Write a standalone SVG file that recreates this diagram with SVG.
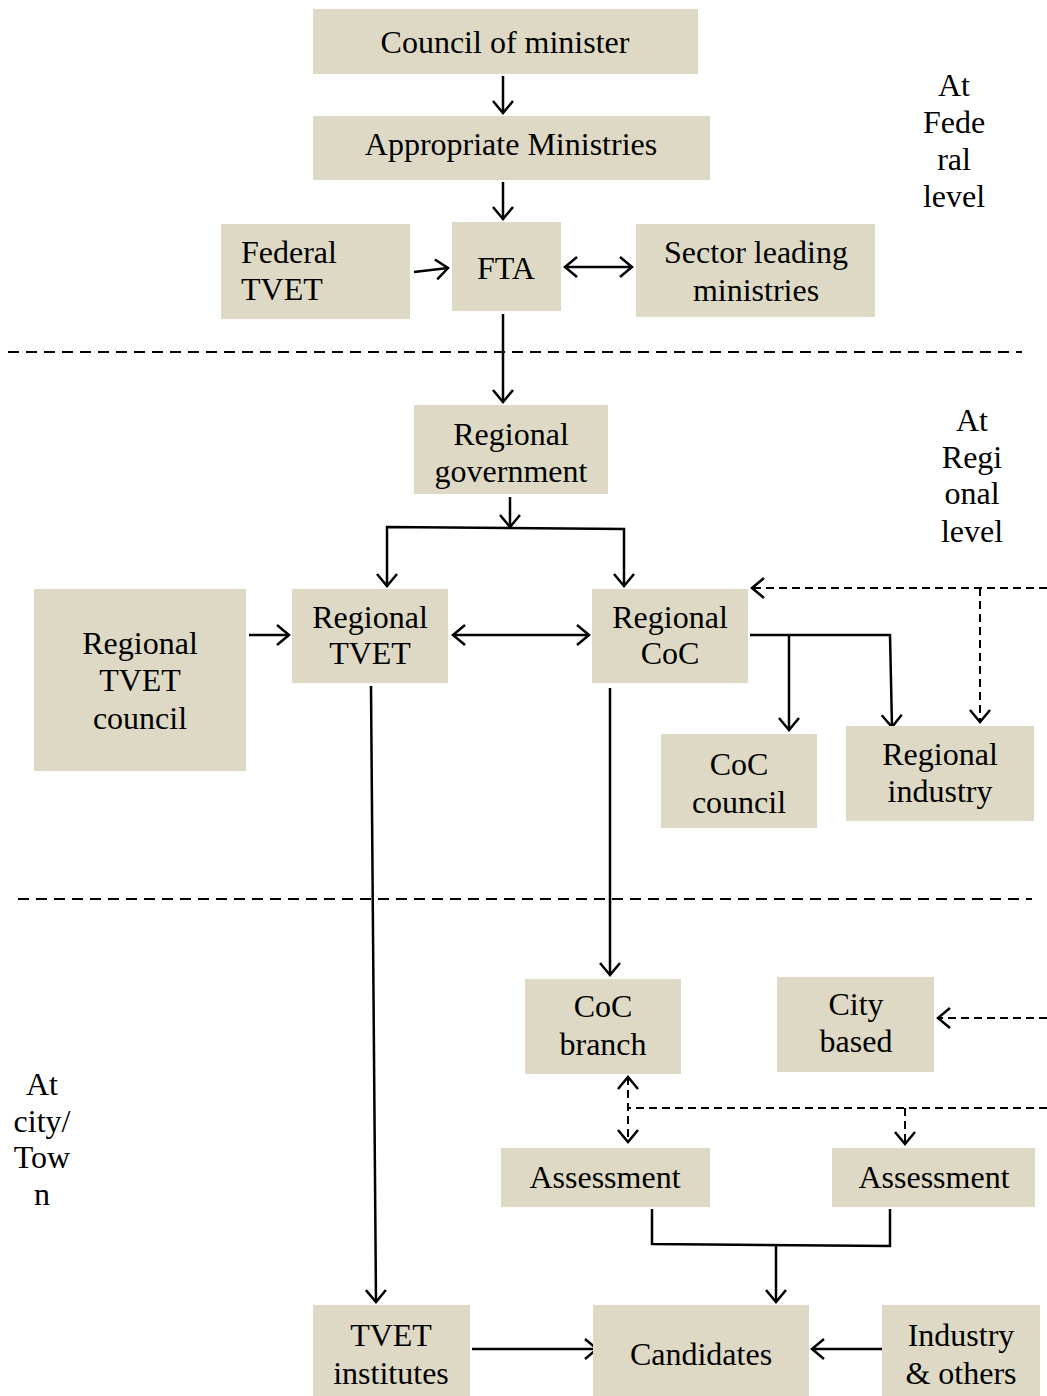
<svg xmlns="http://www.w3.org/2000/svg" width="1047" height="1396" viewBox="0 0 1047 1396">
<style>
.box{fill:#ddd9c4}
text{font-family:"Liberation Serif","Times New Roman",serif;font-size:32px;fill:#000;text-anchor:middle}
.ln{fill:none;stroke:#000;stroke-width:2.5}
.ds{fill:none;stroke:#000;stroke-width:2;stroke-dasharray:8 5}
.sep{fill:none;stroke:#000;stroke-width:2;stroke-dasharray:11 7}
</style>
<defs>
<marker id="ah" markerUnits="userSpaceOnUse" markerWidth="16" markerHeight="24" refX="13" refY="11" orient="auto-start-reverse" viewBox="0 0 16 24">
<path d="M1,1 L13,11 L1,21" fill="none" stroke="#000" stroke-width="2.5"/>
</marker>
</defs>
<rect width="1047" height="1396" fill="#fff"/>

<g id="separators">
<line class="sep" x1="8" y1="352" x2="1022" y2="352"/>
<line class="sep" x1="18" y1="899" x2="1032" y2="899"/>
</g>

<g id="level-labels">
<text x="954" y="96">At</text><text x="954" y="133">Fede</text><text x="954" y="170">ral</text><text x="954" y="207">level</text>
<text x="972" y="431">At</text><text x="972" y="468">Regi</text><text x="972" y="504">onal</text><text x="972" y="542">level</text>
<text x="42" y="1095">At</text><text x="42" y="1132">city/</text><text x="42" y="1168">Tow</text><text x="42" y="1205">n</text>
</g>

<g id="connectors">
<line class="ln" x1="503" y1="76" x2="503" y2="113" marker-end="url(#ah)"/>
<line class="ln" x1="503" y1="182" x2="503" y2="219" marker-end="url(#ah)"/>
<line class="ln" x1="414" y1="272" x2="448" y2="268" marker-end="url(#ah)"/>
<line class="ln" x1="565" y1="267" x2="632" y2="267" marker-start="url(#ah)" marker-end="url(#ah)"/>
<line class="ln" x1="503" y1="314" x2="503" y2="402" marker-end="url(#ah)"/>
<line class="ln" x1="510" y1="497" x2="510" y2="527" marker-end="url(#ah)"/>
<polyline class="ln" points="387,586 387,527 624,529 624,586" marker-start="url(#ah)" marker-end="url(#ah)"/>
<line class="ln" x1="249" y1="635" x2="289" y2="635" marker-end="url(#ah)"/>
<line class="ln" x1="453" y1="635" x2="589" y2="635" marker-start="url(#ah)" marker-end="url(#ah)"/>
<polyline class="ln" points="750,635 890,635 892,727" marker-end="url(#ah)"/>
<line class="ln" x1="789" y1="635" x2="789" y2="730" marker-end="url(#ah)"/>
<line class="ds" x1="1047" y1="588" x2="752" y2="588" marker-end="url(#ah)"/>
<line class="ds" x1="980" y1="588" x2="980" y2="722" marker-end="url(#ah)"/>
<line class="ln" x1="371" y1="686" x2="376" y2="1302" marker-end="url(#ah)"/>
<line class="ln" x1="610" y1="688" x2="610" y2="975" marker-end="url(#ah)"/>
<line class="ds" x1="1047" y1="1018" x2="938" y2="1018" marker-end="url(#ah)"/>
<line class="ds" x1="628" y1="1077" x2="628" y2="1142" marker-start="url(#ah)" marker-end="url(#ah)"/>
<line class="ds" x1="1047" y1="1108" x2="628" y2="1108"/>
<line class="ds" x1="905" y1="1108" x2="905" y2="1144" marker-end="url(#ah)"/>
<polyline class="ln" points="652,1209 652,1244 890,1246 890,1209"/>
<line class="ln" x1="776" y1="1245" x2="776" y2="1302" marker-end="url(#ah)"/>
<line class="ln" x1="472" y1="1349" x2="597" y2="1349" marker-end="url(#ah)"/>
<line class="ln" x1="882" y1="1349" x2="812" y2="1349" marker-end="url(#ah)"/>
</g>

<g id="council-of-minister"><rect class="box" x="313" y="9" width="385" height="65"/><text x="505" y="53">Council of minister</text></g>
<g id="appropriate-ministries"><rect class="box" x="313" y="116" width="397" height="64"/><text x="511" y="155">Appropriate Ministries</text></g>
<g id="federal-tvet"><rect class="box" x="221" y="224" width="189" height="95"/><text x="241" y="263" text-anchor="start" style="text-anchor:start">Federal</text><text x="241" y="300" style="text-anchor:start">TVET</text></g>
<g id="fta"><rect class="box" x="452" y="222" width="109" height="89"/><text x="506" y="279">FTA</text></g>
<g id="sector-leading-ministries"><rect class="box" x="636" y="224" width="239" height="93"/><text x="756" y="263">Sector leading</text><text x="756" y="301">ministries</text></g>
<g id="regional-government"><rect class="box" x="414" y="405" width="194" height="89"/><text x="511" y="445">Regional</text><text x="511" y="482">government</text></g>
<g id="regional-tvet-council"><rect class="box" x="34" y="589" width="212" height="182"/><text x="140" y="654">Regional</text><text x="140" y="691">TVET</text><text x="140" y="729">council</text></g>
<g id="regional-tvet"><rect class="box" x="292" y="589" width="156" height="94"/><text x="370" y="628">Regional</text><text x="370" y="664">TVET</text></g>
<g id="regional-coc"><rect class="box" x="592" y="589" width="156" height="94"/><text x="670" y="628">Regional</text><text x="670" y="664">CoC</text></g>
<g id="coc-council"><rect class="box" x="661" y="734" width="156" height="94"/><text x="739" y="775">CoC</text><text x="739" y="813">council</text></g>
<g id="regional-industry"><rect class="box" x="846" y="726" width="188" height="95"/><text x="940" y="765">Regional</text><text x="940" y="802">industry</text></g>
<g id="coc-branch"><rect class="box" x="525" y="979" width="156" height="95"/><text x="603" y="1017">CoC</text><text x="603" y="1055">branch</text></g>
<g id="city-based"><rect class="box" x="777" y="977" width="157" height="95"/><text x="856" y="1015">City</text><text x="856" y="1052">based</text></g>
<g id="assessment-1"><rect class="box" x="501" y="1148" width="209" height="59"/><text x="605" y="1188">Assessment</text></g>
<g id="assessment-2"><rect class="box" x="832" y="1148" width="203" height="59"/><text x="934" y="1188">Assessment</text></g>
<g id="tvet-institutes"><rect class="box" x="313" y="1305" width="157" height="91"/><text x="391" y="1346">TVET</text><text x="391" y="1384">institutes</text></g>
<g id="candidates"><rect class="box" x="593" y="1305" width="216" height="91"/><text x="701" y="1365">Candidates</text></g>
<g id="industry-others"><rect class="box" x="882" y="1305" width="158" height="91"/><text x="961" y="1346">Industry</text><text x="961" y="1384">&amp; others</text></g>
</svg>
